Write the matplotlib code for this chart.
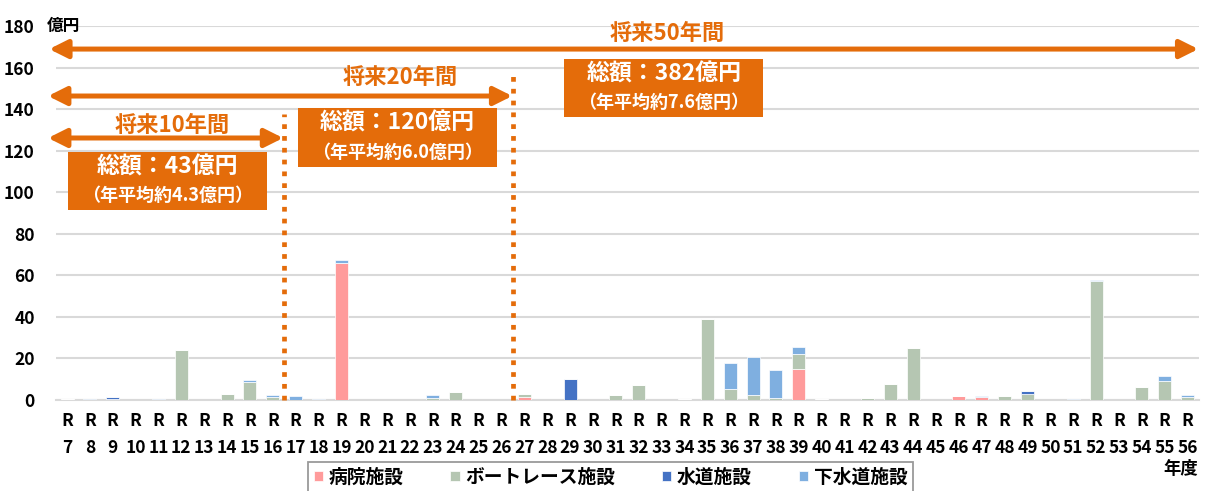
import matplotlib
matplotlib.use("Agg")
import matplotlib.pyplot as plt
import numpy as np
from matplotlib.patches import Rectangle

plt.rcParams['font.family'] = ['Noto Sans CJK JP', 'DejaVu Sans']
plt.rcParams['font.weight'] = 'bold'

years = list(range(7, 57))
labels = [f"R\n{y}" for y in years]

hospital = [0, 0, 0, 0, 0, 0, 0, 0, 0, 0,
            0, 0, 66, 0, 0, 0, 0, 0, 0, 0,
            1.5, 0, 0, 0, 0, 0, 0, 0, 0, 0,
            0, 0, 14.9, 0, 0, 0, 0, 0, 0, 1.8,
            1.6, 0, 0, 0, 0, 0, 0, 0, 0, 0]
boat = [0.5, 0, 0.4, 0, 0, 24.3, 0, 3.0, 8.8, 1.3,
        0, 0, 0, 0, 0, 0, 1.2, 3.8, 0, 0,
        1.4, 0, 0, 0, 2.2, 7.2, 0, 0.5, 38.8, 5.1,
        2.6, 1.0, 7.1, 0.3, 0, 0.8, 7.6, 25.1, 0, 0,
        0, 1.9, 3.0, 0, 0, 57.5, 0, 6.4, 9.0, 1.4]
water = [0, 0, 1.0, 0, 0, 0, 0, 0, 0, 0,
         0, 0, 0, 0, 0, 0, 0, 0, 0, 0,
         0, 0, 10.2, 0, 0, 0, 0, 0, 0, 0,
         0, 0, 0, 0, 0, 0, 0, 0, 0, 0,
         0, 0, 1.2, 0, 0, 0, 0, 0, 0, 0]
sewer = [0, 0.6, 0, 0, 0.3, 0, 0, 0, 0.9, 1.0,
         1.7, 0.7, 1.2, 0, 0, 0, 1.2, 0, 0, 0,
         0, 0, 0, 0, 0.3, 0, 0, 0, 0, 12.8,
         17.9, 13.4, 3.5, 0, 0, 0, 0.3, 0, 0, 0,
         0.3, 0, 0, 0, 0.3, 0.3, 0, 0, 2.4, 1.0]

series = [("病院施設", hospital, "#FF9B9B"),
          ("ボートレース施設", boat, "#B5C6B2"),
          ("水道施設", water, "#4472C4"),
          ("下水道施設", sewer, "#7FAFE0")]

orange = "#E46C0A"

fig = plt.figure(figsize=(12.07, 4.91), dpi=100)
ax = fig.add_axes([55.6/1207, 91/491, (1199-55.6)/1207, (400-26)/491])

x = np.arange(len(years))
bottom = np.zeros(len(years))
for name, vals, col in series:
    v = np.array(vals)
    ax.bar(x, v, width=0.57, bottom=bottom, color=col, label=name,
           edgecolor='white', linewidth=0.5, zorder=3)
    bottom += v

ax.set_xlim(-0.5, len(years) - 0.5)
ax.set_ylim(0, 180)
ax.set_yticks(range(0, 181, 20))
ax.set_xticks(x)
ax.set_xticklabels(labels, fontsize=12.5, fontweight='bold', linespacing=1.65)
ax.tick_params(axis='both', length=0)
ax.tick_params(axis='y', pad=15, labelsize=12.5)
ax.tick_params(axis='x', pad=8.5)
for t in ax.get_yticklabels():
    t.set_fontweight('bold')
ax.grid(axis='y', color='#D9D9D9', linewidth=1.5, zorder=0)
for s in ['top', 'right', 'left']:
    ax.spines[s].set_visible(False)
ax.spines['bottom'].set_color('#D9D9D9')
ax.spines['bottom'].set_linewidth(1.5)

# unit labels
ax.text(-0.87, 180, "億円", ha='left', va='center', fontsize=12, fontweight='bold', clip_on=False)
ax.text(48.7, -33, "年度", ha='center', va='center', fontsize=12.5, fontweight='bold', clip_on=False)

# dotted separators
for xv, ytop in [(9.5, 137.5), (19.5, 159)]:
    ax.plot([xv, xv], [0, ytop], color=orange, linewidth=3.4, linestyle=(0, (1, 1.5)),
            dash_capstyle='butt', zorder=4, clip_on=False)

def darrow(x0, x1, y):
    ax.annotate("", xy=(x1, y), xytext=(x0, y),
                arrowprops=dict(arrowstyle="<|-|>,head_length=1.1,head_width=0.55",
                                color=orange, lw=3.6, shrinkA=0, shrinkB=0),
                annotation_clip=False, zorder=5)

darrow(-0.78, 49.47, 168.9)
darrow(-0.83, 19.47, 146.3)
darrow(-0.83, 9.45, 126.1)

ax.text(26.25, 176.6, "将来50年間", color=orange, ha='center', va='center', fontsize=16, fontweight='bold')
ax.text(14.57, 155.2, "将来20年間", color=orange, ha='center', va='center', fontsize=16, fontweight='bold')
ax.text(4.6, 132.3, "将来10年間", color=orange, ha='center', va='center', fontsize=16, fontweight='bold')

def box(x0, x1, y0, y1, l1, l2):
    ax.add_patch(Rectangle((x0, y0), x1 - x0, y1 - y0, facecolor=orange,
                           edgecolor='none', zorder=5, clip_on=False))
    cx = (x0 + x1) / 2
    h = y1 - y0
    ax.text(cx, y0 + h * 0.74, l1, color='white', ha='center', va='center',
            fontsize=16.5, fontweight='bold', zorder=6)
    ax.text(cx, y0 + h * 0.25, l2, color='white', ha='center', va='center',
            fontsize=13, fontweight='bold', zorder=6)

box(0.04, 8.75, 91.4, 119.3, "総額：43億円", "（年平均約4.3億円）")
box(10.1, 18.8, 112.1, 140.5, "総額：120億円", "（年平均約6.0億円）")
box(21.74, 30.45, 136.2, 164.1, "総額：382億円", "（年平均約7.6億円）")

leg = fig.legend(loc='upper left', bbox_to_anchor=(308/1207, 0, 605/1207, 29/491),
                 mode='expand', ncol=4,
                 fontsize=13.5, frameon=True, fancybox=False, edgecolor='#808080',
                 handlelength=0.5, handleheight=0.5, handletextpad=0.3,
                 columnspacing=1.9, borderpad=0.3, borderaxespad=0)
leg.get_frame().set_linewidth(1.3)
for t in leg.get_texts():
    t.set_fontweight('bold')

fig.savefig("out.png", dpi=100)
